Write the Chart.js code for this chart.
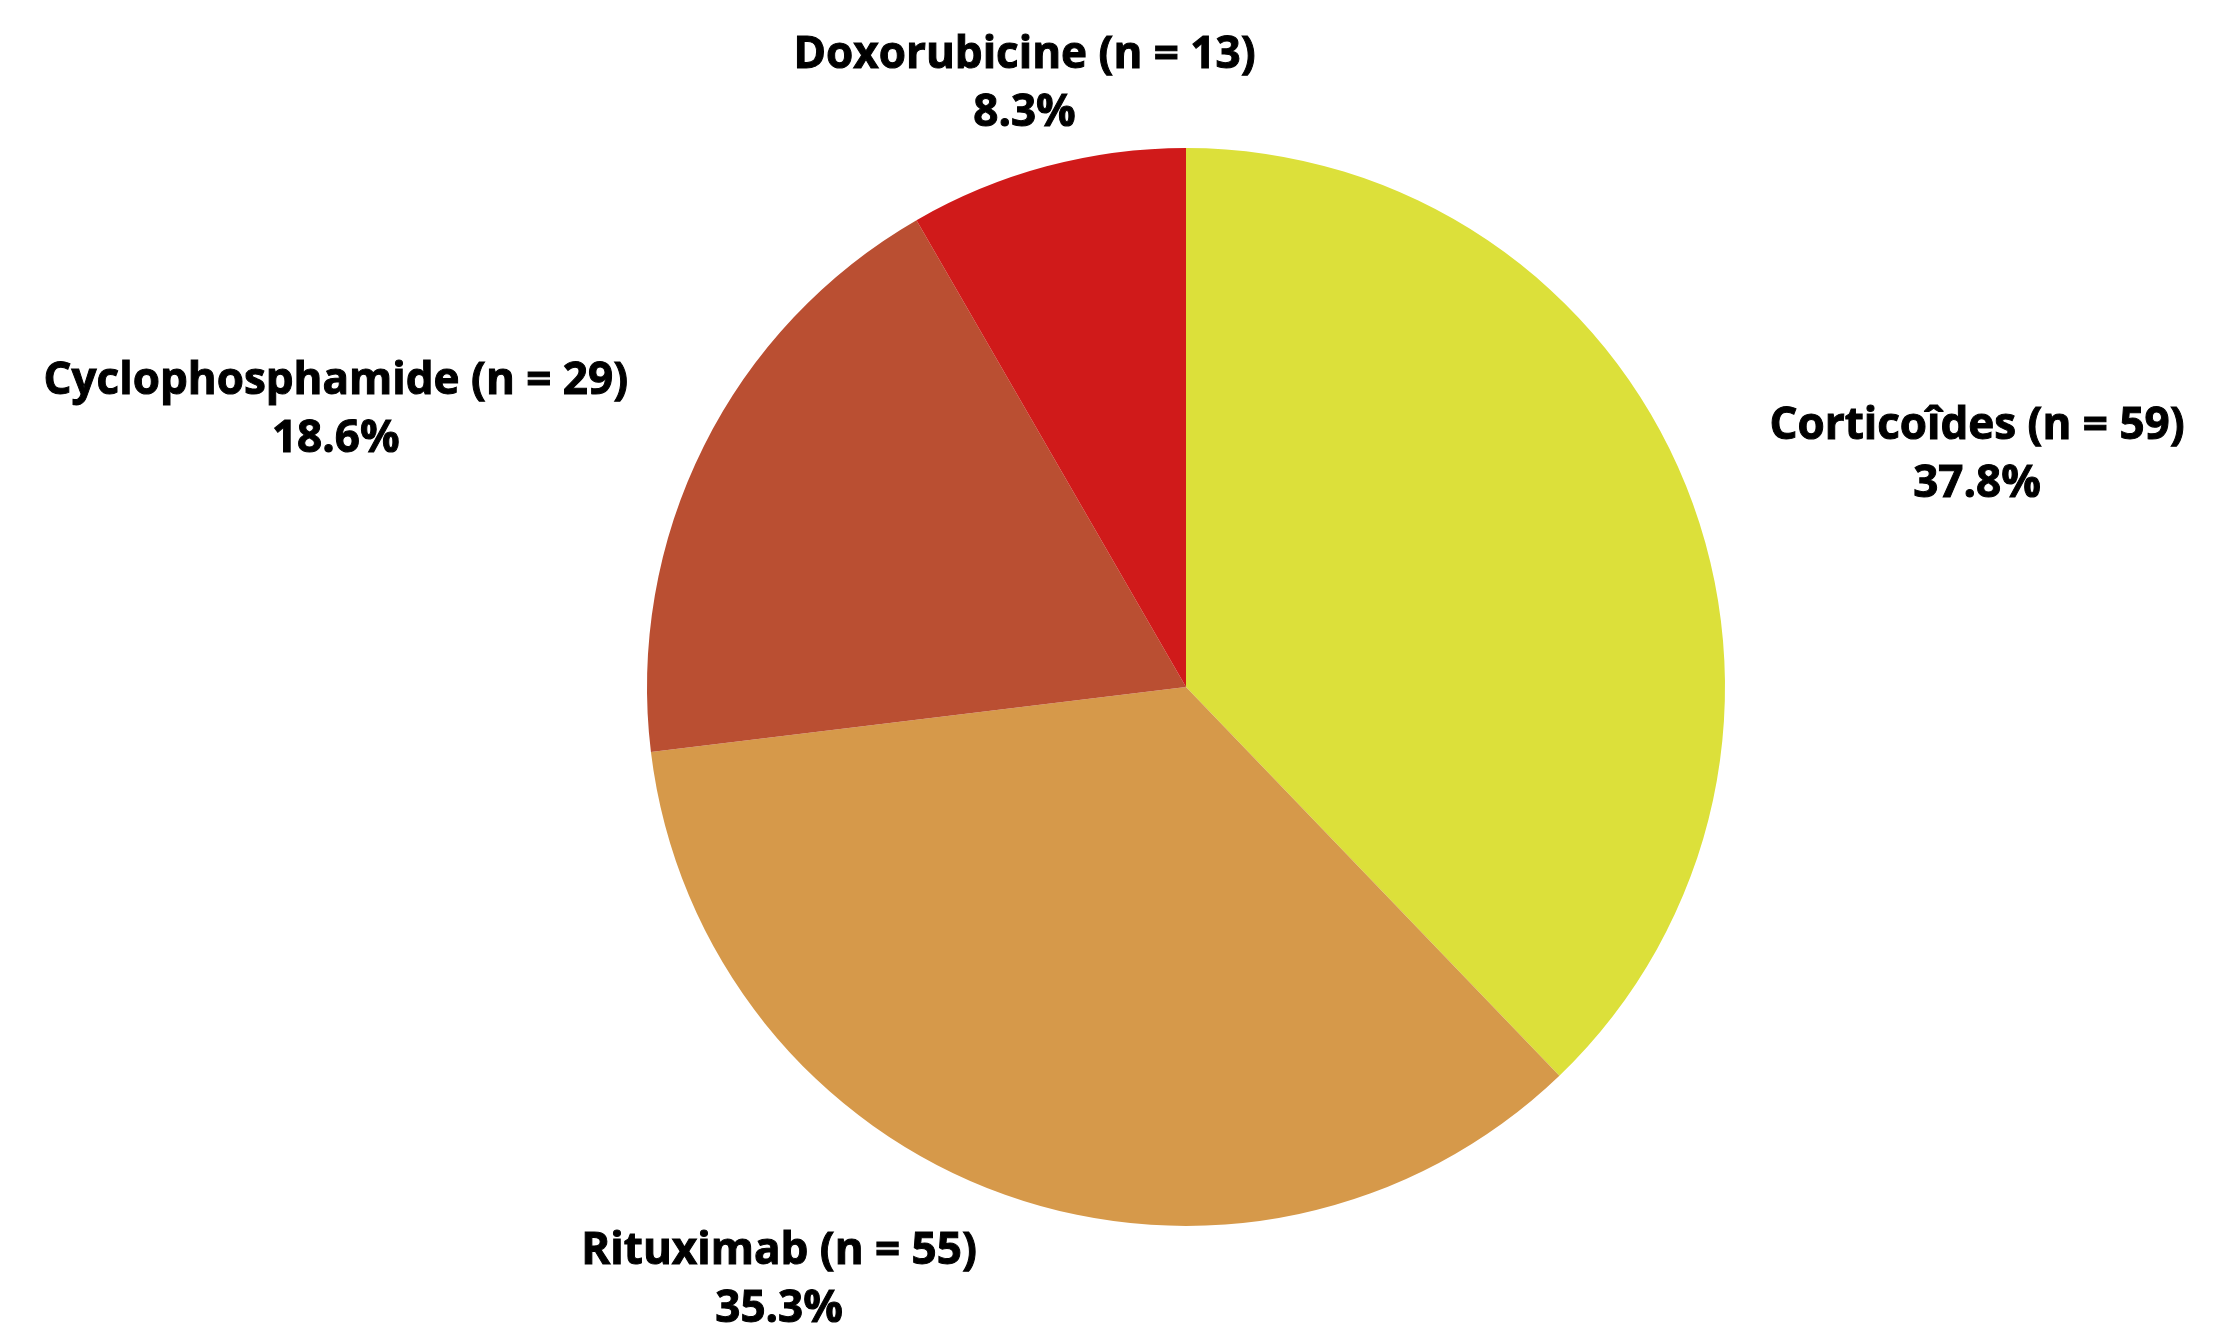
<!DOCTYPE html>
<html>
<head>
<meta charset="utf-8">
<script src="https://cdn.jsdelivr.net/npm/chart.js@4.4.1/dist/chart.umd.min.js"></script>
<style>
  html, body { margin: 0; padding: 0; background: #fff; }
  #wrap { width: 2231px; height: 1328px; }
</style>
</head>
<body>
<div id="wrap"><canvas id="treatments"></canvas></div>
<script>
// treatment counts
var drugNames = ['Corticoîdes', 'Rituximab', 'Cyclophosphamide', 'Doxorubicine'];
var drugCounts = [59, 55, 29, 13];
var sliceColors = ['#dce03a', '#d6994a', '#ba4f32', '#d01a1a'];

var total = drugCounts.reduce(function(a, b) {return a + b}, 0);

// labels outside the pie, nudged from each slice's mid point on the rim
var outsideLabels = {
  id: 'outsideLabels',
  afterDatasetsDraw(chart, args, opts) {
    const ctx = chart.ctx;
    const arcs = chart.getDatasetMeta(0).data;
    ctx.save();
    ctx.fillStyle = '#000';
    ctx.font = 'bold 44px "Open Sans"';
    ctx.textAlign = 'center';
    ctx.textBaseline = 'middle';
    arcs.forEach(function(arc, i) {
      const p = arc.getProps(['x', 'y', 'startAngle', 'endAngle', 'outerRadius'], true);
      const mid = (p.startAngle + p.endAngle) / 2;
      const ax = p.x + Math.cos(mid) * p.outerRadius + opts.shift[i][0];
      const ay = p.y + Math.sin(mid) * p.outerRadius + opts.shift[i][1];
      const pct = (drugCounts[i] / total * 100).toFixed(1) + '%';
      // fake a heavier weight with a thin stroke
      ctx.lineWidth = 1;
      ctx.strokeStyle = '#000';
      ctx.fillText(drugNames[i] + ' (n = ' + drugCounts[i] + ')', ax, ay - 29);
      ctx.strokeText(drugNames[i] + ' (n = ' + drugCounts[i] + ')', ax, ay - 29);
      ctx.fillText(pct, ax, ay + 29);
      ctx.strokeText(pct, ax, ay + 29);
    });
    ctx.restore();
  }
};

new Chart('treatments', {
  type: 'pie',
  data: {
    labels: drugNames,
    datasets: [{
      data: drugCounts,
      backgroundColor: sliceColors,
      borderWidth: 0,
    }]
  },
  options: {
    responsive: true,
    maintainAspectRatio: false,
    animation: false,
    layout: {
      padding: {top: 148, bottom: 102, left: 647, right: 506}
    },
    plugins: {
      legend: {display: false},
      tooltip: {enabled: false},
      outsideLabels: {
        shift: [[291, -30], [-226, 86], [-368, -36], [-22, -82]]
      }
    }
  },
  plugins: [outsideLabels]
});
</script>
</body>
</html>
